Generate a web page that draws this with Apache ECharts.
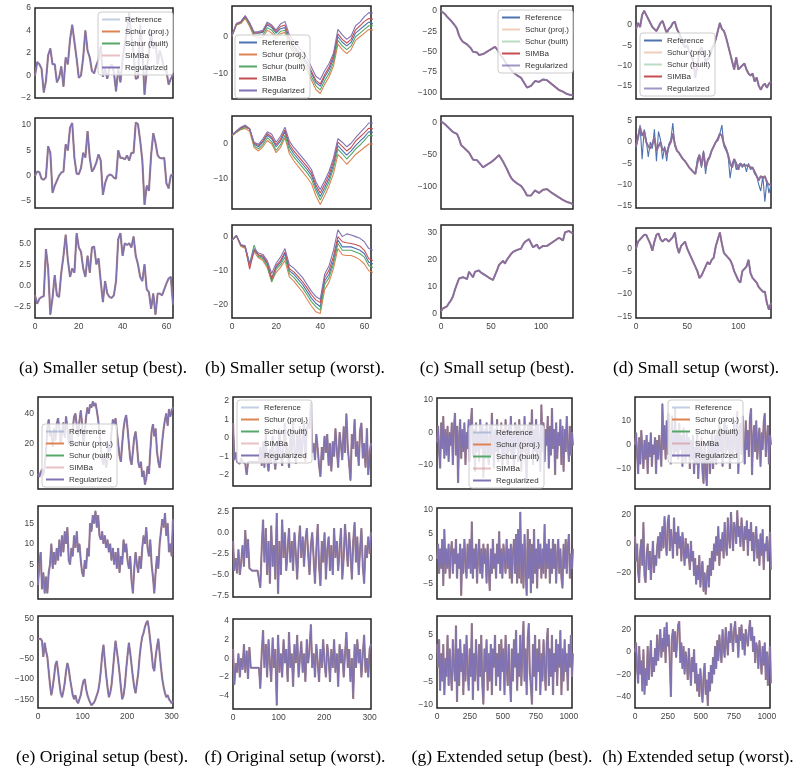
<!DOCTYPE html>
<html lang="en">
<head>
<meta charset="UTF-8">
<title>Setups comparison</title>
<script src="https://cdn.jsdelivr.net/npm/echarts@6/dist/echarts.min.js"></script>
</head>
<body style="margin:0;background:#fff">
<div id="container" style="width:797px;height:773px"></div>
<script>
// series names, same in every panel
var methodNames = ['Reference', 'Schur (proj.)', 'Schur (built)', 'SIMBa', 'Regularized'];
var methodColors = ['#4c72b0', '#dd8452', '#55a868', '#c44e52', '#8172b3'];

// (a) smaller setup, best: all methods overlap -> one series per row (x = 0..63)
var smallerBest1 = [0.0,1.2,1.0,0.6,-1.5,-0.5,1.8,2.4,1.0,1.0,-0.6,-0.2,0.8,-1.0,1.6,1.0,3.2,4.5,3.0,1.5,-0.2,0.0,1.6,4.0,2.2,1.6,0.4,0.2,0.9,1.4,2.6,-0.1,0.6,-0.3,0.7,1.0,0.3,-1.4,0.6,-0.6,1.5,2.8,4.0,5.6,3.5,2.0,-0.3,-0.2,4.5,2.5,-1.7,0.5,2.0,3.8,2.4,3.0,1.0,2.2,1.5,0.5,0.4,-0.8,-0.3,0.1];
var smallerBest2 = [0.0,0.8,0.7,-0.6,-0.8,-0.3,5.8,4.5,-3.4,-2.0,-1.0,0.0,0.6,0.8,6.2,5.0,9.5,10.4,3.5,0.4,0.3,1.5,4.5,3.6,8.8,3.5,0.8,1.5,2.6,4.2,3.0,-3.8,-1.5,-0.2,0.2,0.1,-0.4,-0.6,5.0,3.5,3.5,3.2,4.0,3.0,4.5,4.5,10.5,10.2,7.0,3.0,-5.8,-2.0,-3.0,4.0,8.4,6.5,4.0,3.5,3.4,3.5,-1.5,-2.5,0.0,0.3];
var smallerBest3 = [-1.2,-2.2,-1.6,-1.4,-1.3,4.3,2.0,-3.5,-1.5,1.2,-1.2,-1.4,1.5,3.5,6.0,3.0,1.0,2.0,1.5,6.2,4.5,4.0,2.0,1.0,3.5,1.5,4.5,4.6,2.5,3.2,0.5,-2.0,0.5,-1.0,-1.4,-1.5,-1.2,0.5,5.5,6.2,3.5,5.0,4.8,5.0,4.5,5.8,3.5,2.5,1.0,0.5,2.5,-0.5,-0.8,-2.8,-1.0,-3.5,-1.0,-1.0,-1.2,-0.5,0.2,0.8,1.0,-2.3];

// (b) smaller setup, worst: methods differ (x = 0, 2, ..., 64)
var smallerWorst1Ref   = [0.3,3.5,4.0,5.5,3.5,1.0,1.0,1.2,3.2,2.5,1.0,2.2,2.5,-1.0,-3.0,-4.5,-6.0,-7.5,-10.0,-12.5,-13.5,-11.0,-9.0,-6.0,0.0,-1.5,-2.5,-1.5,1.0,2.0,3.0,4.0,3.5];
var smallerWorst1Proj  = [0.1,3.2,3.6,5.0,2.8,0.0,-0.2,-0.2,1.8,1.0,-0.5,0.8,1.2,-2.5,-4.5,-6.0,-7.6,-9.2,-11.8,-14.4,-15.5,-13.0,-11.0,-8.0,-2.0,-3.5,-4.6,-3.5,-1.0,0.0,1.0,2.0,1.8];
var smallerWorst1Built = [0.2,3.3,3.8,5.3,3.2,0.5,0.4,0.5,2.5,1.8,0.2,1.5,1.8,-1.8,-3.8,-5.3,-6.9,-8.4,-10.9,-13.4,-14.5,-12.0,-10.0,-7.0,-1.0,-2.5,-3.5,-2.5,0.0,1.0,2.0,3.0,3.0];
var smallerWorst1Simba = [0.3,3.5,4.0,5.6,3.6,1.1,1.1,1.5,3.6,2.9,1.4,2.8,3.2,-0.3,-2.4,-3.9,-5.4,-6.9,-9.4,-11.9,-12.9,-10.4,-8.3,-5.2,0.8,-0.7,-1.7,-0.7,1.9,3.0,4.2,5.0,4.8];
var smallerWorst1Reg   = [0.4,3.6,4.2,5.8,3.8,1.3,1.4,1.8,4.0,3.2,1.8,3.5,4.2,0.5,-1.2,-2.7,-4.2,-5.7,-8.3,-10.8,-11.7,-9.3,-7.3,-4.5,2.0,0.5,-0.7,0.2,3.0,4.0,5.5,6.6,6.5];
var smallerWorst2Ref   = [2.5,3.5,4.5,5.0,4.2,0.0,-0.8,0.5,2.5,1.5,-0.8,0.8,3.5,-0.8,-2.8,-4.3,-5.8,-7.3,-9.0,-12.5,-15.0,-12.5,-9.8,-6.0,-0.5,-1.8,-3.2,-2.0,-0.5,0.8,2.0,3.5,3.3];
var smallerWorst2Proj  = [2.3,3.3,4.1,4.4,3.6,-1.0,-2.0,-0.8,1.0,0.0,-2.5,-1.0,1.8,-2.8,-4.8,-6.4,-8.0,-9.6,-11.3,-14.8,-17.3,-14.8,-12.0,-8.5,-3.0,-4.3,-5.8,-4.5,-3.0,-2.0,-1.0,0.0,0.0];
var smallerWorst2Built = [2.4,3.4,4.3,4.7,4.4,-0.5,-1.4,-0.2,1.8,0.6,-1.8,-0.2,2.5,-1.8,-3.7,-5.2,-6.7,-8.2,-10.0,-13.4,-16.0,-13.5,-10.8,-7.0,-1.5,-2.8,-4.3,-3.0,-1.5,-0.3,1.0,2.5,2.3];
var smallerWorst2Simba = [2.5,3.6,4.6,5.2,4.3,0.3,-0.4,0.9,3.0,2.0,-0.2,1.4,4.0,0.0,-2.0,-3.5,-5.0,-6.5,-8.2,-11.7,-14.0,-11.5,-8.8,-5.0,0.5,-0.7,-2.0,-1.0,0.8,2.0,3.2,4.5,4.3];
var smallerWorst2Reg   = [2.6,3.7,4.8,5.4,4.4,0.5,-0.1,1.5,3.5,2.8,0.5,2.2,4.8,0.8,-1.0,-2.5,-4.0,-5.5,-7.3,-10.8,-13.0,-10.5,-7.8,-4.0,1.5,0.5,-0.8,0.2,1.8,3.2,4.5,6.0,6.0];
var smallerWorst3Ref   = [-1.0,0.3,-2.5,-3.0,-8.5,-4.0,-5.5,-6.0,-8.0,-12.0,-9.0,-7.5,-5.0,-10.0,-11.0,-12.5,-14.0,-16.0,-18.0,-19.5,-20.5,-13.0,-11.0,-7.0,-1.0,-3.0,-3.0,-3.0,-3.5,-4.0,-5.0,-7.5,-8.0];
var smallerWorst3Proj  = [-1.1,0.1,-2.8,-3.5,-8.8,-4.5,-6.2,-7.0,-9.2,-13.0,-10.5,-9.0,-7.0,-11.8,-13.0,-14.6,-16.2,-18.3,-20.3,-22.0,-22.5,-15.5,-13.3,-9.3,-3.5,-5.3,-5.5,-5.5,-6.0,-6.8,-8.0,-10.0,-10.5];
var smallerWorst3Built = [-1.0,0.2,-2.6,-3.2,-8.0,-2.5,-5.8,-6.5,-8.6,-13.3,-9.6,-8.2,-6.0,-10.8,-11.9,-13.5,-15.0,-17.0,-19.0,-20.5,-21.5,-14.0,-12.0,-8.0,-2.0,-4.0,-4.0,-4.0,-4.5,-5.0,-6.0,-8.5,-9.0];
var smallerWorst3Simba = [-1.0,0.3,-2.5,-3.0,-9.5,-3.8,-5.3,-5.7,-7.6,-12.5,-8.5,-7.0,-4.5,-9.4,-10.3,-11.7,-13.2,-15.0,-17.0,-18.5,-19.3,-12.0,-9.8,-5.8,0.0,-1.5,-1.8,-2.0,-2.3,-2.8,-4.0,-6.5,-7.0];
var smallerWorst3Reg   = [-1.0,0.4,-2.3,-2.7,-8.0,-3.5,-4.8,-5.2,-7.0,-10.8,-7.8,-6.0,-3.5,-8.3,-9.2,-10.6,-12.0,-14.0,-16.0,-17.5,-18.3,-11.0,-8.5,-4.0,2.0,0.0,0.8,0.5,0.0,-0.5,-1.5,-3.5,-4.0];

// (c) small setup, best (x = 0, 2, ..., 132)
var smallBest1 = [0,-2,-4,-7,-9,-12,-15,-18,-22,-30,-35,-38,-40,-41,-43,-46,-50,-49,-51,-54,-55,-53,-51,-50,-48,-47,-45,-44,-47,-51,-55,-58,-62,-66,-69,-72,-75,-77,-79,-80,-82,-86,-90,-94,-95,-92,-89,-86,-87,-87,-86,-84,-83,-85,-87,-89,-91,-93,-95,-97,-98,-99,-100,-102,-101,-103,-104];
var smallBest2 = [2,0,-3,-6,-9,-12,-15,-17,-18,-25,-35,-38,-41,-44,-47,-49,-58,-60,-59,-62,-66,-70,-68,-66,-64,-62,-60,-57,-54,-51,-56,-61,-67,-73,-80,-86,-90,-93,-95,-97,-99,-103,-108,-114,-117,-114,-110,-106,-108,-110,-108,-105,-102,-104,-107,-109,-111,-113,-115,-117,-119,-121,-122,-124,-123,-126,-128];
var smallBest3 = [1,2,2.2,2.8,4,5,6.5,9,11,13,13.5,13.5,14,12.8,15.5,14.5,13.5,15.5,16,16,15.2,14.8,14.3,13.8,13.3,12.8,12.5,12.3,16,18,18.5,19.5,18.5,20,21,22,22.8,23.5,23.5,23.5,24,25.5,26.5,27.2,27.5,26,24.5,24,25.5,24,23.5,25,24.5,25,25.5,26,26.5,27,27.5,28,28.5,27,30,29.5,30.5,30,29.5];

// (d) small setup, worst (x = 0, 2, ..., 132)
var smallWorst1 = [-1,0.5,-0.5,2.5,3.5,2.5,1.5,0.5,-0.5,-1.0,-1.5,-0.5,0.5,1.0,-0.5,-2.0,-1.0,-0.5,0.5,0.8,-1.0,-2.0,-3.0,-4.5,-5.5,-5.0,-6.5,-7.5,-9.0,-13.0,-10.0,-6.5,-5.5,-7.0,-9.0,-8.5,-8.0,-6.0,-5.0,-3.5,-1.5,0.5,-1.0,-1.5,-3.0,-5.0,-7.0,-9.0,-11.0,-8.0,-11.0,-10.5,-10.0,-9.5,-11.0,-12.0,-12.5,-12.0,-14.0,-13.0,-15.0,-16.0,-15.0,-14.5,-15.5,-14.5,-14.0];
var smallWorst2Ref = [-1.5,1.5,4.0,-4.0,3.0,0.5,-3.5,0.0,-1.5,3.0,-4.5,2.5,0.5,-4.0,-1.0,-4.5,-0.5,0.5,4.5,-1.0,-2.0,-2.5,-3.3,-4.0,-4.5,-5.2,-6.0,-6.5,-7.0,-7.5,-4.0,-3.0,-6.0,-2.0,-7.5,-4.0,-3.5,-2.0,-1.0,0.0,1.0,2.0,4.0,-1.0,-2.0,-3.0,-8.5,-5.0,-4.0,-6.5,-5.5,-5.0,-6.0,-5.0,-7.0,-5.0,-6.5,-6.0,-7.5,-8.0,-10.0,-11.5,-8.0,-14.0,-9.0,-12.0,-10.0];
var smallWorst2Est = [-1.0,1.0,3.5,1.5,2.5,0.0,-1.0,-1.5,-0.5,1.0,-2.0,-1.0,0.0,-2.0,-1.5,-3.0,-1.0,0.0,2.0,-0.5,-2.0,-2.5,-3.3,-4.0,-4.5,-5.2,-6.0,-6.5,-7.0,-7.5,-5.0,-3.0,-5.5,-2.5,-6.0,-4.5,-3.5,-2.0,-1.0,0.0,0.5,2.0,1.5,-0.5,-1.5,-3.0,-5.0,-6.0,-4.0,-5.0,-6.5,-5.0,-5.5,-5.5,-5.5,-5.5,-6.0,-6.0,-7.0,-8.0,-9.0,-8.0,-8.5,-8.0,-9.5,-10.0,-10.0];
var smallWorst3 = [0,1.5,2.0,2.5,3.0,3.0,2.0,1.0,-0.5,1.5,3.0,3.3,2.0,1.5,2.0,2.0,1.5,2.0,2.5,3.5,0.5,-1.0,0.5,1.0,1.5,0.0,-1.0,-2.0,-3.0,-4.0,-5.0,-6.5,-6.0,-5.0,-4.0,-3.0,-3.5,-2.5,-2.0,0.5,2.0,3.5,1.0,-1.0,-1.5,-2.0,-2.5,-3.5,-5.0,-6.0,-7.0,-7.5,-5.0,-4.5,-4.0,-2.5,-5.5,-6.5,-7.0,-7.5,-8.5,-9.0,-9.5,-9.5,-12.0,-13.5,-12.0];

// (e) original setup, best (x = 0, 3, ..., 303)
var originalBest1 = [0,-2,1,3,-1,5,15,30,36,25,28,18,30,22,33,37,30,20,28,34,24,38,30,20,26,18,30,38,40,32,25,35,42,33,20,28,38,44,40,46,44,48,45,47,42,36,28,18,10,6,12,4,10,20,15,28,36,32,37,28,20,12,8,20,30,36,39,30,20,10,6,15,24,28,20,8,4,8,-2,2,-7,-3,5,0,15,28,33,25,30,15,8,4,12,22,30,36,40,32,43,38,42,44];
var originalBest2 = [0,5,8,-1,3,-2,2,-2,3,5,10,4,8,5,9,6,11,7,12,8,13,10,14,6,5,9,7,12,9,13,8,10,6,3,2,6,4,9,7,15,13,17,15,18,14,17,12,11,13,10,12,9,11,8,10,6,9,5,8,4,9,3,7,5,11,8,10,6,4,7,1,-2,4,8,5,3,7,4,9,12,10,14,9,7,11,5,2,-2,3,7,4,10,13,16,14,17.5,12,15,8,10,7,16];
var originalBest3 = [0,-2,0,-5,-45,-10,-30,-45,-80,-115,-140,-120,-95,-65,-55,-80,-110,-135,-145,-130,-110,-80,-60,-75,-100,-120,-140,-150,-140,-155,-160,-150,-140,-120,-105,-100,-125,-140,-150,-158,-165,-162,-158,-150,-140,-130,-110,-80,-40,-15,-55,-90,-120,-145,-135,-115,-80,-40,-5,-30,-55,-85,-120,-150,-140,-115,-75,-40,-10,-35,-65,-95,-120,-135,-110,-85,-45,-15,5,15,30,40,45,25,-5,-35,-70,-80,-45,-20,0,-35,-70,-100,-120,-135,-145,-140,-150,-155,-160,-155];

// (f) original setup, worst (x = 0, 3, ..., 303)
var originalWorst1 = [0.8,-1.2,-0.8,-1.3,-1.2,-1.4,-1.1,-1.3,-1.2,-1.4,-2.0,-1.3,-1.3,-1.3,-1.3,-1.3,-1.3,-1.3,-1.3,-1.3,-0.5,-1.5,-0.2,-1.6,0.3,-1.2,-1.8,-0.6,-1.4,0.1,-1.0,-1.7,-0.4,-1.2,0.5,-0.9,-1.5,-0.3,0.8,-1.0,-0.5,-1.6,0.2,-0.8,1.0,-0.6,-1.4,0.3,-0.9,0.6,-1.1,-0.2,0.9,-1.3,0.4,0.8,0.5,1.9,-0.8,-0.3,-1.2,0.2,-0.6,-1.5,-2.1,-0.5,-1.2,0.1,-0.8,0.2,-1.5,-0.3,-1.8,-0.2,-1.0,0.5,-0.7,-1.6,0.3,-0.4,-1.2,0.6,-0.8,1.3,-0.5,-1.4,-2.3,0.2,-0.6,1.0,-1.0,-0.2,-1.5,0.4,0.8,-1.1,-0.3,-1.6,0.5,-2.0,-0.8,-0.3];
var originalWorst2 = [-1.0,-4.5,-3.0,-4.8,-2.0,-5.0,-3.5,-1.5,-4.0,0.3,-3.0,-0.8,-4.2,-4.4,-4.5,-4.5,-4.5,-4.5,-4.5,-4.5,-6.5,-2.0,1.5,-3.5,0.5,-5.0,-1.0,-6.0,0.8,-4.0,-1.5,-5.5,2.3,-7.2,-1.0,-5.0,1.5,-3.0,0.0,-4.5,-2.0,0.5,-3.5,-1.0,-4.5,0.0,-2.5,-5.5,-1.5,0.8,-3.0,-0.5,-4.0,-1.0,0.5,-2.5,-5.0,-1.5,0.0,-3.0,-6.0,-2.0,1.0,-4.0,-6.3,-1.0,-3.5,0.0,-5.5,-2.0,-0.5,-4.5,-1.5,-5.0,0.5,-3.0,-1.0,-4.5,-2.0,0.5,-5.5,-3.0,1.0,-1.5,-4.0,0.0,-2.5,-5.5,-1.0,1.2,-3.5,-0.5,-5.0,-2.0,0.5,-4.0,-6.0,-1.5,-3.0,-0.5,-2.5,0.0];
var originalWorst3 = [1.0,-2.8,-0.5,-1.5,0.5,-2.0,0.0,-1.2,1.5,-1.5,0.8,-2.2,1.2,-1.0,-1.0,-1.0,-1.0,-1.0,-1.0,-1.0,-3.2,0.5,3.0,-1.0,1.5,-2.0,2.0,-0.5,-2.5,2.2,-1.0,1.0,-5.0,2.5,-1.5,0.5,-2.0,2.0,-0.5,1.0,-2.5,2.8,-1.0,0.5,-3.0,1.5,-0.5,2.5,-2.0,0.0,1.8,-1.5,0.5,-2.5,2.0,-0.5,1.0,3.6,-1.0,0.5,-2.0,1.5,-0.5,-2.5,1.0,-1.0,2.0,-0.5,-2.0,1.5,0.0,-2.5,1.0,-1.0,2.0,-1.5,0.5,-3.0,1.5,-0.5,1.0,-2.0,0.5,2.8,-1.0,1.0,-2.5,0.0,-4.3,1.5,-1.0,2.0,-0.5,1.0,-2.0,0.5,2.5,-1.5,0.0,-2.0,1.0,1.5];

// (g) extended setup, best (x = 0, 8, ..., 1024)
var extendedBest1 = [-3,2,-6,-11,3,-5,5,-8,1,-7,2,-9,0,-4,3,-10,1,6,-7,2,-15.5,-1,4,-8,1,-6,3,-10,0,-5,4,-9,2,7.5,-7,1,-12,3,-6,0,-9,4,-5,2,-14,1,-8,3,-4,-10,2,-7,6,-3,-11,1,-6,4,-9,0,-5,3,-12,1,-7,4,-4,-10,2,-6,5,-8,0,-11,3,-5,2,-9,4,-3,-12,1,-6,5,-8,-15,2,-7,3,-4,7,-10,1,-6,4,-9,2,-5,-12,8.5,-6,3,-9,1,-4,5,-11,2,-7,7.5,-5,1,-13,3,-8,0,-4,4,-10,2,-12,1,-6,5,-3,-9,2,-7,0,-4];
var extendedBest2 = [0,3,-3,2,-2,4,-5.5,6,-3,2,-2,3,-4,1,3.5,-3,2,-1,4,-4,1,-2,3,-7.5,2,-3,4,-1,-4,3,-2,4,-3,7.5,-4,2,-2,3,-5,1,4,-3,2,-4,3,-1,2,-5,3,-2,-6.5,2,-3,4,-2,1,-4,3,-1,5.5,-3,2,-4,3,0,-3,4,-2,2,-4,3,-5,1,4,-3,5,-5,6,-4,9.5,-5,3,-6,5,-2,-7.5,6,-4,4,-7,3,-5,6,-3,2,-6,4,-2,3,-4,2,-3,7,-4,3,-2,4,-5,2,-3,4,-2,3,-5,1,4,-3,2,-4,-6,3,-2,4,-3,2,5,-4,1,-2,2];
var extendedBest3 = [3,-2,4,-7,1,-5,3,-8,0,-4,5,-6,2,-3,-7,4,-1,-5,7,-9.5,2,-6,4,-3,1,-8,3,-5,5,-2,-7,2,-4,7.5,-9,1,-5,4,-2,-7,3,-4,5,-6,-10,2,-3,4,-7,1,-5,3,-8,2,-2,5,-6,1,-4,3,-7,4,-3,2,-8,5,-1,-6,3,-4,-9.5,2,-5,4,-2,6,-7,1,-4,5,-6,3,8,-5,2,-8,4,7.5,-3,-6,-10,3,-4,5,-7,2,-3,4,-8,1,-5,4,-2,-7,3,6.5,-6,2,-4,5,-8,1,-3,4,-6,3,-2,6,-8,2,-5,4,-3,1,-7,3,-2,5,-4,1];

// (h) extended setup, worst (x = 0, 8, ..., 1024)
var extendedWorst1 = [0,5,-4,-12,3,-8,6,-3,-10,2,-6,4,-12,1,-5,5,-9,0,-4,3,-12,2,-6,4,-3,-9,17,-2,8,-6,10,-4,13,2,-8,12,0,-5,15,-3,6,-6,9,-2,4,-9,7,1,-7,5,-4,3,-10,2,-6,4,-12,-1,-8,5,-14,0,-7,3,-11,-16,1,-9,-17,-3,2,-12,-4,5,-10,-2,4,-8,6,-5,9,-3,7,-9,3,11,-4,8,-2,5,-10,6,2,-6,10,0,-3,14,-12,5,9,-4,12,1,-8,10,-2,6,-5,11,15,-12.5,4,8,-3,10,-6,3,7,-9,5,-2,9,13,-5,2,8,-8,4,0];
var extendedWorst2 = [5,-12,0,-20,-27,-5,3,-15,15,-22,-27,-8,0,-18,-5,-25,-12,2,-20,-8,-15,-2,5,-10,8,-5,12,-3,19,2,-8,14,20,-5,10,3,-10,18,0,8,-8,12,-3,5,-12,8,-2,-15,4,-10,0,-8,-18,2,-12,-5,-22,-10,-28,-15,-25,-8,-30,-18,-12,-33,-20,-35,-25,-15,-30,-10,-22,-5,-18,0,-12,5,-8,12,-15,3,-5,8,-10,15,0,-8,18,5,-3,22,8,-5,15,10,0,23,5,12,-2,18,8,-5,12,3,16,-8,10,2,15,-5,8,-12,5,12,-10,3,-15,7,-8,10,-18,0,-5,5,-12,-3,8,-18];
var extendedWorst3 = [0,8,-15,-28,5,-20,-8,-35,2,-38,-15,-30,5,-25,-10,10,-22,-5,-18,3,-12,15,-8,8,20,-5,12,0,22,-10,26,5,15,-8,-40,12,20,0,18,-5,10,24,27,-10,8,-15,5,-20,0,-8,-25,3,-12,-30,-5,-18,2,-28,-10,-35,-20,-40,-15,-30,-45,-22,-10,-38,-25,-48,-18,-35,-12,-28,-5,-20,5,-15,10,-8,15,0,-10,20,5,-5,22,10,-3,18,8,25,12,0,20,27,8,15,-5,22,10,24,2,16,-3,20,12,5,18,28,10,22,0,14,-10,8,2,-15,10,-5,-20,5,-12,8,-25,0,-30,-8,5,-28];

// line styles per panel family: [width, opacity] for the 5 methods
var styleThickRef = [[2.2, 0.35], [1, 1], [1, 1], [2.2, 0.35], [1.3, 1]];
var styleThin = [[1.1, 1], [1.1, 1], [1.1, 1], [1.1, 1], [1.1, 1]];
var styleThickReg = [[1.1, 1], [1.8, 0.4], [1.8, 0.4], [1.1, 1], [2, 0.75]];

function same(a) { return [a, a, a, a, a]; }

var panels = [
    { id: 'a', caption: '(a) Smaller setup (best).', capX: 103, capY: 368, left: 35, right: 173,
      rows: [[8, 98], [118, 208], [229, 318]], xMax: 63, xTick: 1, xMajor: 20, step: 1, style: styleThickRef,
      legend: { left: 98, top: 12 },
      plots: [
          { series: same(smallerBest1), y: [-2, 6, 2, 1, 0] },
          { series: same(smallerBest2), y: [-6.4, 11.4, 5, 0.2, 0] },
          { series: same(smallerBest3), y: [-3.9, 6.7, 2.5, 0.1, 1] }] },
    { id: 'b', caption: '(b) Smaller setup (worst).', capX: 295, capY: 368, left: 232, right: 371,
      rows: [[6, 99], [116, 209], [225, 318]], xMax: 63, xTick: 1, xMajor: 20, step: 2, style: styleThin,
      legend: { left: 235, top: 35 },
      plots: [
          { series: [smallerWorst1Ref, smallerWorst1Proj, smallerWorst1Built, smallerWorst1Simba, smallerWorst1Reg], y: [-17, 8.4, 10, 0.2, 0] },
          { series: [smallerWorst2Ref, smallerWorst2Proj, smallerWorst2Built, smallerWorst2Simba, smallerWorst2Reg], y: [-18.6, 8, 10, 0.2, 0] },
          { series: [smallerWorst3Ref, smallerWorst3Proj, smallerWorst3Built, smallerWorst3Simba, smallerWorst3Reg], y: [-23.8, 3.4, 10, 0.2, 0] }] },
    { id: 'c', caption: '(c) Small setup (best).', capX: 497, capY: 368, left: 441, right: 573,
      rows: [[6, 99], [116, 209], [225, 318]], xMax: 132, xTick: 2, xMajor: 50, step: 2, style: styleThickReg,
      legend: { left: 498, top: 10 },
      plots: [
          { series: same(smallBest1), y: [-108, 6, 25, 1, 0] },
          { series: same(smallBest2), y: [-135, 10, 50, 1, 0] },
          { series: same(smallBest3), y: [-1.5, 32.7, 10, 0.1, 0] }] },
    { id: 'd', caption: '(d) Small setup (worst).', capX: 696, capY: 368, left: 636, right: 771,
      rows: [[6, 99], [117, 208], [228, 318]], xMax: 132, xTick: 2, xMajor: 50, step: 2, style: styleThickReg,
      legend: { left: 640, top: 33 },
      plots: [
          { series: same(smallWorst1), y: [-18.3, 4.7, 5, 0.1, 0] },
          { series: [smallWorst2Ref, smallWorst2Est, smallWorst2Est, smallWorst2Est, smallWorst2Est], y: [-15.5, 5.9, 5, 0.1, 0] },
          { series: same(smallWorst3), y: [-15.3, 4.5, 5, 0.1, 0] }] },
    { id: 'e', caption: '(e) Original setup (best).', capX: 102, capY: 757, left: 38, right: 173,
      rows: [[397, 489], [506, 599], [616, 708]], xMax: 303, xTick: 1, xMajor: 100, step: 3, style: styleThickRef,
      legend: { left: 42, top: 424 },
      plots: [
          { series: same(originalBest1), y: [-10, 51, 20, 1, 0] },
          { series: same(originalBest2), y: [-3.4, 19.2, 5, 0.2, 0] },
          { series: same(originalBest3), y: [-172, 57, 50, 1, 0] }] },
    { id: 'f', caption: '(f) Original setup (worst).', capX: 295, capY: 757, left: 233, right: 371,
      rows: [[397, 486], [508, 597], [619, 709]], xMax: 303, xTick: 1, xMajor: 100, step: 3, style: styleThickRef,
      legend: { left: 237, top: 400 },
      plots: [
          { series: same(originalWorst1), y: [-2.6, 2.2, 1, 0.1, 0] },
          { series: same(originalWorst2), y: [-7.6, 2.9, 2.5, 0.1, 1] },
          { series: same(originalWorst3), y: [-5.4, 4.2, 2, 0.1, 0] }] },
    { id: 'g', caption: '(g) Extended setup (best).', capX: 502, capY: 757, left: 437, right: 572,
      rows: [[398, 489], [508, 599], [616, 708]], xMax: 1024, xTick: 2, xMajor: 250, step: 8, style: styleThickRef,
      legend: { left: 469, top: 425 },
      plots: [
          { series: same(extendedBest1), y: [-17.4, 10.6, 10, 0.2, 0] },
          { series: same(extendedBest2), y: [-8.2, 10.3, 5, 0.1, 0] },
          { series: same(extendedBest3), y: [-10.8, 9.1, 5, 0.1, 0] }] },
    { id: 'h', caption: '(h) Extended setup (worst).', capX: 698, capY: 757, left: 635, right: 770,
      rows: [[397, 489], [506, 599], [616, 708]], xMax: 1024, xTick: 2, xMajor: 250, step: 8, style: styleThickRef,
      legend: { left: 668, top: 400 },
      plots: [
          { series: same(extendedWorst1), y: [-18.3, 19.8, 10, 0.1, 0] },
          { series: same(extendedWorst2), y: [-38.2, 26.2, 20, 0.2, 0] },
          { series: same(extendedWorst3), y: [-50, 31.8, 20, 0.2, 0] }] }
];

var labelFont = '"Liberation Sans", Arial, sans-serif';

// only label multiples of the major step, matplotlib style minus sign
function tickFormatter(major, dec) {
    return function (v) {
        var r = v / major;
        if (Math.abs(r - Math.round(r)) > 1e-6) return '';
        var s = Math.abs(v).toFixed(dec);
        return v < -1e-9 ? '\u2212' + s : s;
    };
}

var grids = [], xAxes = [], yAxes = [], series = [], legends = [], texts = [];

panels.forEach(function (p) {
    p.plots.forEach(function (plot, r) {
        var gi = grids.length;
        grids.push({
            left: p.left, top: p.rows[r][0], width: p.right - p.left, height: p.rows[r][1] - p.rows[r][0],
            show: true, borderColor: '#222', borderWidth: 1.5, backgroundColor: 'transparent'
        });
        xAxes.push({
            type: 'value', gridIndex: gi, min: 0, max: p.xMax, interval: p.xTick,
            axisLine: { show: false }, axisTick: { show: false }, splitLine: { show: false },
            axisLabel: {
                show: r === 2, fontSize: 8.5, color: '#444', fontFamily: labelFont, margin: 4,
                formatter: tickFormatter(p.xMajor, 0)
            }
        });
        yAxes.push({
            type: 'value', gridIndex: gi, min: plot.y[0], max: plot.y[1], interval: plot.y[3],
            axisLine: { show: false }, axisTick: { show: false }, splitLine: { show: false },
            axisLabel: {
                fontSize: 8.5, color: '#444', fontFamily: labelFont, margin: 4,
                formatter: tickFormatter(plot.y[2], plot.y[4])
            }
        });
        plot.series.forEach(function (vals, k) {
            series.push({
                type: 'line', name: methodNames[k] + '|' + p.id,
                xAxisIndex: gi, yAxisIndex: gi, symbol: 'none', silent: true,
                data: vals.map(function (v, i) { return [i * p.step, v]; }),
                lineStyle: { color: methodColors[k], width: p.style[k][0], opacity: p.style[k][1] },
                itemStyle: { color: methodColors[k] }
            });
        });
    });
    legends.push({
        left: p.legend.left, top: p.legend.top, orient: 'vertical', selectedMode: false,
        data: methodNames.map(function (n) { return n + '|' + p.id; }),
        formatter: function (n) { return n.split('|')[0]; },
        itemWidth: 18, itemHeight: 8, itemGap: 3,
        itemStyle: { opacity: 0 },
        textStyle: { fontSize: 8, lineHeight: 9, color: '#333', fontFamily: labelFont },
        backgroundColor: 'rgba(255,255,255,0.8)', borderColor: '#ccc', borderWidth: 1, borderRadius: 3,
        padding: [3, 4, 3, 3]
    });
    texts.push({
        type: 'text', x: p.capX, y: p.capY,
        style: {
            text: p.caption, font: '17.5px "Liberation Serif", "Times New Roman", serif', fill: '#000',
            textAlign: 'center', textVerticalAlign: 'middle', align: 'center', verticalAlign: 'middle'
        }
    });
});

var chart = echarts.init(document.getElementById('container'));
chart.setOption({
    animation: false,
    backgroundColor: '#fff',
    grid: grids,
    xAxis: xAxes,
    yAxis: yAxes,
    legend: legends,
    series: series,
    graphic: texts
});
</script>
</body>
</html>
